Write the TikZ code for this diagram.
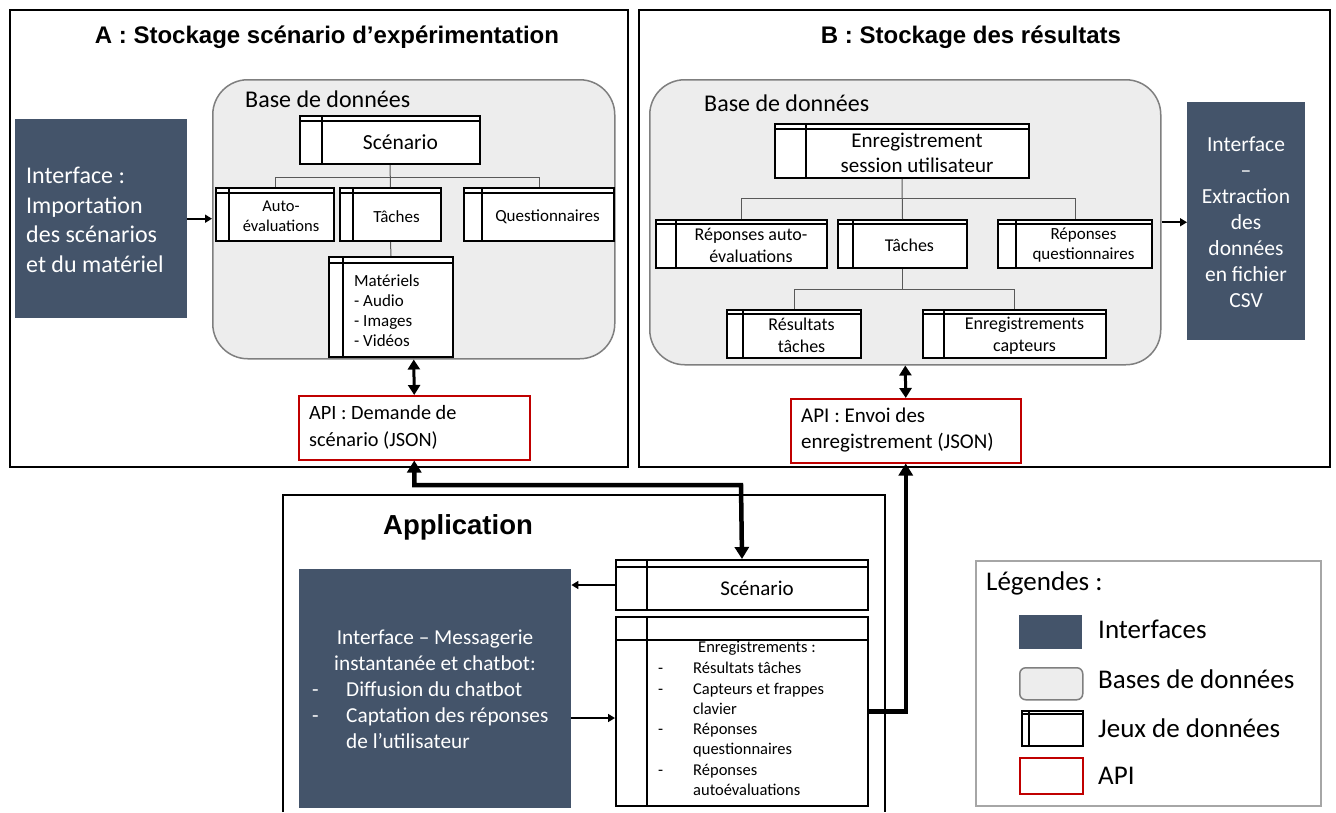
\documentclass[tikz,border=0pt]{standalone}
\usepackage{fontspec}
\setmainfont{Carlito}
\newfontfamily\arialfont{Liberation Sans}
\usetikzlibrary{arrows.meta,calc}
\definecolor{slate}{HTML}{44546A}
\definecolor{dbfill}{HTML}{EDEDED}
\definecolor{dbdraw}{HTML}{7F7F7F}
\definecolor{apired}{HTML}{C00000}
\definecolor{treegray}{HTML}{595959}
\definecolor{leggray}{HTML}{A6A6A6}
\newcommand\fs[2]{\fontsize{#1}{#2}\selectfont}
\newcommand\boxnode[6][]{\node[#1, anchor=north west, inner sep=0, minimum width={(#5)-(#3)}, minimum height={(#6)-(#4)}] (#2) at (#3,#4) {};}
% name, x1, y1, x2, y2, vline offset, header offset, font, text
\newcommand\dset[9]{%
  \boxnode[dsbox]{#1}{#2}{#3}{#4}{#5}
  \draw[dsline] ({#2},{#3+#7}) -- ({#4},{#3+#7});
  \draw[dsline] ({#2+#6},{#3}) -- ({#2+#6},{#5});
  \node[align=center, font=#8, inner sep=0] (#1-t) at ({(#2+#6+#4)/2},{(#3+#7+#5)/2}) {#9};
}
\begin{document}
\begin{tikzpicture}[x=1pt,y=-1pt,
  frame/.style={draw=black, line width=2pt},
  iface/.style={fill=slate},
  dbbox/.style={draw=dbdraw, fill=dbfill, line width=1.5pt, rounded corners=35pt},
  dsbox/.style={draw=black, line width=2pt, fill=white},
  dsline/.style={draw=black, line width=1.2pt},
  api/.style={draw=apired, line width=1.5pt, fill=white},
  tree/.style={draw=treegray, line width=1pt},
  title/.style={font=\arialfont\bfseries\fs{24}{29}},
  wtext/.style={text=white, inner sep=0},
  legtext/.style={anchor=west, font=\fs{27}{32}, inner sep=0},
  smallarr/.style={line width=1.6pt, -{Triangle[length=7pt,width=8pt]}},
  midarr/.style={line width=3pt, {Triangle[length=10pt,width=12pt]}-{Triangle[length=10pt,width=12pt]}},
  bigarr/.style={line width=4.5pt, -{Triangle[length=12pt,width=14pt]}},
  bigarrb/.style={line width=4.5pt, {Triangle[length=12pt,width=14pt]}-{Triangle[length=12pt,width=14pt]}}
]
\useasboundingbox (0,0) rectangle (1336,812);
\fill[white] (0,0) rectangle (1336,812);

% ---------- frames
\boxnode[frame]{frA}{9}{9}{627}{466}
\boxnode[frame]{frB}{638}{9}{1329}{466}
\coordinate (appBL) at (283,812);
\coordinate (appTL) at (283,495);
\coordinate (appTR) at (885,495);
\coordinate (appBR) at (885,812);
\draw[frame] (appBL) -- (appTL) -- (appTR) -- (appBR);

\node[title] (tA) at (327,37) {A : Stockage scénario d’expérimentation};
\node[title] (tB) at (971,37) {B : Stockage des résultats};
\node[font=\arialfont\bfseries\fs{27.5}{33}] (tApp) at (458,527) {Application};

% ---------- A
\boxnode[dbbox]{dbA}{212}{79}{614}{358}
\node[anchor=west, font=\fs{24}{29}, inner sep=0] (dbAt) at (245,99) {Base de données};
\coordinate (jA) at (391,177);
\dset{scA}{299}{115}{479}{163}{23}{6}{\fs{21.5}{26}}{Scénario}
\dset{autoA}{215}{187}{333}{240}{14}{6}{\fs{16.5}{19.5}}{Auto-\\évaluations}
\dset{tacA}{339}{187}{440}{240}{14}{6}{\fs{17}{20}}{Tâches}
\dset{qA}{463}{187}{613}{240}{19}{6}{\fs{17}{20}}{Questionnaires}
\dset{matA}{328}{256}{452}{356}{15}{7}{\fs{17}{20}}{}
\node[anchor=north west, align=left, font=\fs{17}{20.3}, inner sep=0] (matAt) at (354,274) {Matériels\\- Audio\\- Images\\- Vidéos};
\draw[tree] (scA.south) -- (tacA.north);
\draw[tree] (autoA.north) -- (autoA.north |- jA) -| (qA.north);
\draw[tree] (tacA.south) -- (matA.north);

\boxnode[iface]{ifA}{15}{119}{187}{318}
\node[wtext, anchor=west, align=left, font=\fs{24}{29.7}] (ifAt) at (26,220) {Interface :\\Importation\\des scénarios\\et du matériel};

\boxnode[api]{apiA}{298}{395}{529}{459}
\node[anchor=west, align=left, font=\fs{20.3}{27}, inner sep=0] (apiAt) at (309,427) {API : Demande de\\scénario (JSON)};

% ---------- B
\boxnode[dbbox]{dbB}{649}{79}{1160}{364}
\node[anchor=west, font=\fs{24}{29}, inner sep=0] (dbBt) at (704,103) {Base de données};
\coordinate (jB) at (902,198);
\coordinate (jB2) at (902,289);
\dset{enrB}{774}{123}{1028}{177}{32}{6}{\fs{21}{25.5}}{Enregistrement\\session utilisateur}
\dset{rauB}{655}{219}{826}{267}{21}{5}{\fs{18}{22}}{Réponses auto-\\évaluations}
\dset{tacB}{837}{219}{966}{267}{16}{5}{\fs{18}{22}}{Tâches}
\dset{rqB}{997}{219}{1151}{267}{19}{5}{\fs{17}{20}}{Réponses\\questionnaires}
\dset{resB}{726}{309}{860}{357}{17}{5}{\fs{18}{22}}{Résultats\\tâches}
\dset{capB}{922}{309}{1105}{357}{22}{5}{\fs{18}{22}}{Enregistrements\\capteurs}
\draw[tree] (enrB.south) -- (tacB.north);
\draw[tree] (rauB.north) -- (rauB.north |- jB) -| (rqB.north);
\draw[tree] (tacB.south) -- (tacB.south |- jB2);
\draw[tree] (resB.north) -- (resB.north |- jB2) -| (capB.north);

\boxnode[iface]{ifB}{1187}{102}{1305}{340}
\node[wtext, align=center, font=\fs{21.5}{26}] (ifBt) at (1246,222) {Interface\\–\\Extraction\\des\\données\\en fichier\\CSV};

\boxnode[api]{apiB}{790}{398}{1020}{462}
\node[anchor=west, align=left, font=\fs{21}{25.5}, inner sep=0] (apiBt) at (801,430) {API : Envoi des\\enregistrement (JSON)};

% ---------- Application
\boxnode[iface]{ifApp}{299}{569}{571}{808}
\node[wtext, align=center, font=\fs{21.3}{26}] (ifAppt) at (435,650) {Interface – Messagerie\\instantanée et chatbot:};
\node[wtext, anchor=west, align=left, font=\fs{21.3}{26}] (ifAppl) at (312,715) {\makebox[34pt][l]{-}Diffusion du chatbot\\\makebox[34pt][l]{-}Captation des réponses\\\hspace*{34pt}de l’utilisateur};

\dset{scApp}{615}{559}{867}{609}{32}{8}{\fs{21}{25}}{Scénario}
\dset{enrApp}{615}{616}{867}{805}{32}{24}{\fs{16.5}{20.3}}{}
\node[font=\fs{16.5}{20.3}, inner sep=0] (enrAppH) at (757,648) {Enregistrements :};
\node[anchor=west, align=left, font=\fs{16.5}{20.3}, inner sep=0] (enrAppL) at (658,729) {\makebox[35pt][l]{-}Résultats tâches\\\makebox[35pt][l]{-}Capteurs et frappes\\\hspace*{35pt}clavier\\\makebox[35pt][l]{-}Réponses\\\hspace*{35pt}questionnaires\\\makebox[35pt][l]{-}Réponses\\\hspace*{35pt}autoévaluations};

% ---------- Legend
\boxnode[draw=leggray, line width=1.5pt]{leg}{975}{560}{1320}{805}
\node[legtext] (legT) at (986,583) {Légendes :};
\boxnode[iface]{lg1}{1019}{615}{1082}{649}
\node[legtext] (lg1t) at (1098,629) {Interfaces};
\boxnode[dbbox, rounded corners=6pt]{lg2}{1019}{667}{1082}{699}
\node[legtext] (lg2t) at (1098,679) {Bases de données};
\dset{lg3}{1021}{710}{1082}{745}{8}{4}{\fs{10}{12}}{}
\node[legtext] (lg3t) at (1098,728) {Jeux de données};
\boxnode[api]{lg4}{1019}{757}{1082}{793}
\node[legtext] (lg4t) at (1098,776) {API};

% ---------- connectors
\draw[smallarr] (ifA.east) -- (ifA.east -| dbA.west);
\draw[smallarr] (dbB.east) -- (dbB.east -| ifB.west);
\draw[midarr] (dbA.south) -- (apiA.north);
\draw[midarr] (dbB.south) -- (apiB.north);
\coordinate (bendA) at (741,485);
\draw[bigarrb] (apiA.south) |- (bendA) -- (scApp.north);
\draw[bigarr] (enrApp.east) -| (apiB.south);
\draw[smallarr] (scApp.west) -- (scApp.west -| ifApp.east);
\coordinate (cE) at (600,718);
\draw[smallarr] (ifApp.east |- cE) -- (enrApp.west |- cE);
\end{tikzpicture}
\end{document}
